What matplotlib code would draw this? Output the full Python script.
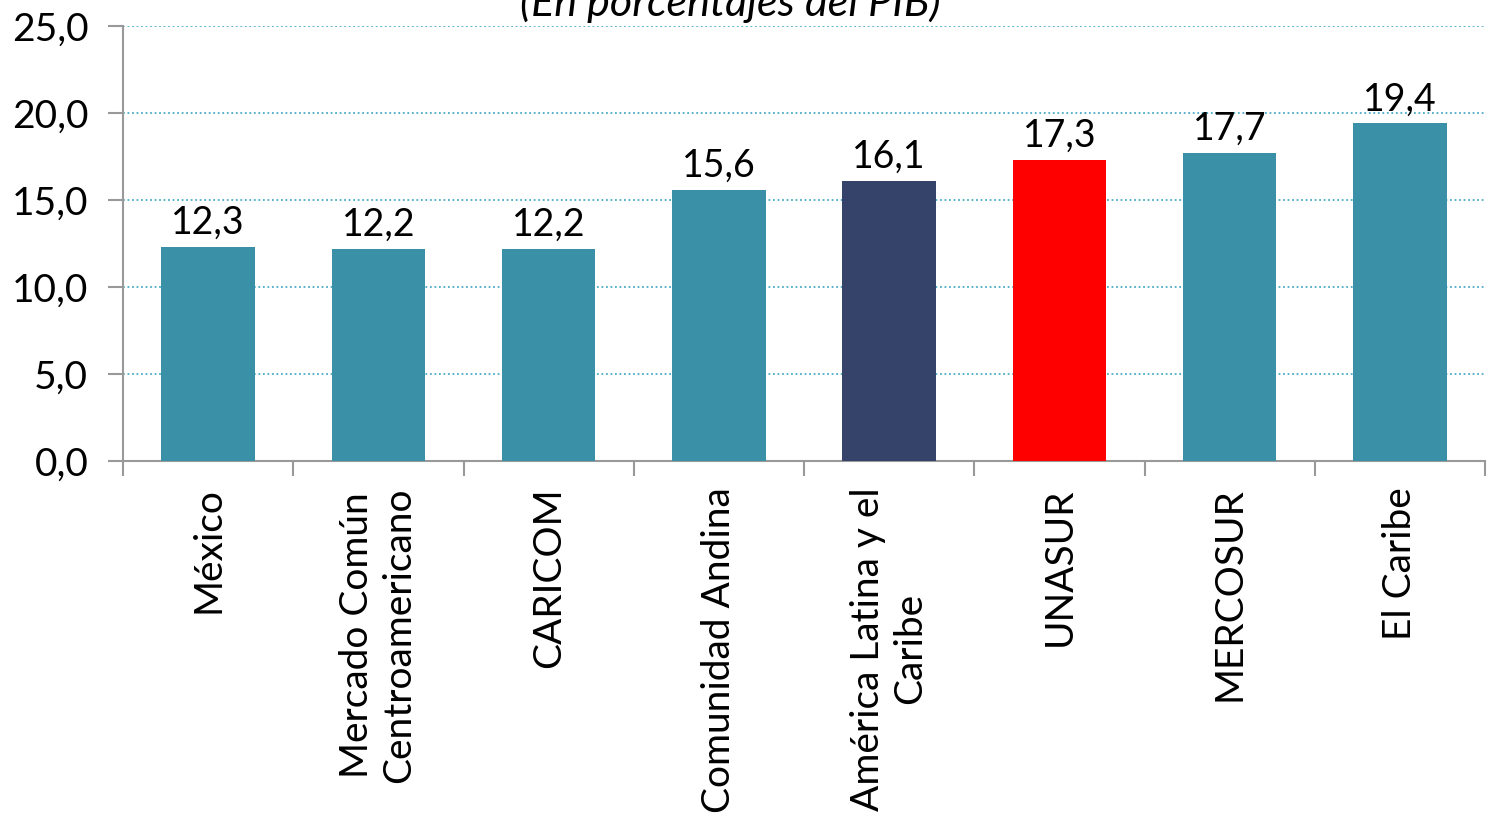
import matplotlib
matplotlib.use("Agg")
import matplotlib.pyplot as plt

categories = ["México", "Mercado Común\nCentroamericano", "CARICOM", "Comunidad Andina",
              "América Latina y el\nCaribe", "UNASUR", "MERCOSUR", "El Caribe"]
values = [12.3, 12.2, 12.2, 15.6, 16.1, 17.3, 17.7, 19.4]
labels = ["12,3", "12,2", "12,2", "15,6", "16,1", "17,3", "17,7", "19,4"]
colors = ["#3A91A7", "#3A91A7", "#3A91A7", "#3A91A7", "#35426A", "#FF0000", "#3A91A7", "#3A91A7"]
yticks = [0, 5, 10, 15, 20, 25]
ytick_labels = ["0,0", "5,0", "10,0", "15,0", "20,0", "25,0"]

plt.rcParams['font.family'] = ['Lato', 'DejaVu Sans']

fig = plt.figure(figsize=(14.9, 8.17), dpi=100)
ax = fig.add_axes([123/1490, 1-461/817, (1485-123)/1490, (461-26)/817])

x = list(range(len(categories)))
ax.bar(x, values, width=0.55, color=colors, zorder=3)
for xi, v, lab in zip(x, values, labels):
    ax.text(xi, v + 0.35, lab, ha='center', va='bottom', fontsize=27, zorder=4)

ax.set_xlim(-0.5, len(categories) - 0.5)
ax.set_ylim(0, 25)
ax.set_yticks(yticks)
ax.set_yticklabels(ytick_labels, fontsize=28)
ax.yaxis.grid(True, linestyle=(0, (1, 1.5)), color='#4BACC6', linewidth=1.3, zorder=0)
ax.set_axisbelow(True)

ax.set_xticks([i - 0.5 for i in range(len(categories) + 1)])
ax.set_xticklabels([])
ax.tick_params(axis='x', length=11, width=1.5, color='#999999', direction='out')
ax.tick_params(axis='y', length=11, width=1.5, color='#999999', direction='out', pad=14)

for xi, cat in zip(x, categories):
    ax.text(xi, -1.5, cat, rotation=90, ha='center', va='top', fontsize=28,
            multialignment='center', transform=ax.transData)

for s in ['top', 'right']:
    ax.spines[s].set_visible(False)
for s in ['left', 'bottom']:
    ax.spines[s].set_color('#999999')
    ax.spines[s].set_linewidth(1.5)

fig.text(730/1490, 1-16/817, "(En porcentajes del PIB)", ha='center', va='baseline',
         fontsize=31, style='italic')

fig.savefig("out.png", dpi=100)
